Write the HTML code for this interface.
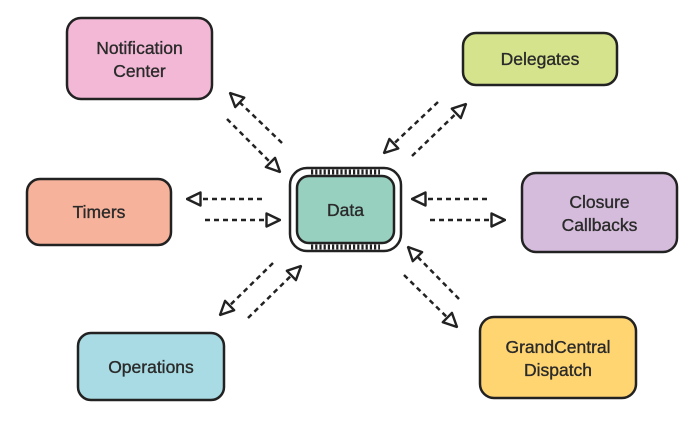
<!DOCTYPE html>
<html><head><style>
html,body{margin:0;padding:0;background:#fff;}
svg text{font-family:"Liberation Sans",sans-serif;font-size:17.5px;fill:#2a2a2a;text-anchor:middle;stroke:#2a2a2a;stroke-width:0.35;}
</style></head><body>
<svg width="700" height="426" viewBox="0 0 700 426" xmlns="http://www.w3.org/2000/svg">
<defs>
<marker id="a" viewBox="0 0 16 16" refX="15" refY="8" markerWidth="16" markerHeight="16" markerUnits="userSpaceOnUse" orient="auto">
<path d="M1.5,1.5 L15,8 L1.5,14.5 Z" fill="#fff" stroke="#222" stroke-width="2.4" stroke-linejoin="round"/>
</marker>
</defs>
<g stroke="#222" stroke-width="2.5">
<rect x="67" y="18" width="145" height="81" rx="14" fill="#f2b8d6"/>
<rect x="463" y="33" width="154" height="52" rx="13" fill="#d4e38c"/>
<rect x="27" y="179" width="144" height="66" rx="13" fill="#f7b29b"/>
<rect x="522" y="173" width="155" height="79" rx="14" fill="#d5bcdc"/>
<rect x="78" y="333" width="146" height="67" rx="13" fill="#a8dbe3"/>
<rect x="480" y="317" width="156" height="81" rx="14" fill="#ffd572"/>
<rect x="290" y="168" width="111" height="83" rx="17" fill="#fff"/>
<rect x="297" y="176" width="97" height="67" rx="12" fill="#98d0c0"/>
</g>
<line x1="311" y1="172" x2="380" y2="172" stroke="#222" stroke-width="5" stroke-dasharray="2.2 2"/>
<line x1="311" y1="247" x2="380" y2="247" stroke="#222" stroke-width="5" stroke-dasharray="2.2 2"/>
<text x="139.5" y="54">Notification</text><text x="139.5" y="77">Center</text>
<text x="540" y="65">Delegates</text>
<text x="99" y="218">Timers</text>
<text x="599.5" y="208">Closure</text><text x="599.5" y="231">Callbacks</text>
<text x="151" y="373">Operations</text>
<text x="558" y="353">GrandCentral</text><text x="558" y="376">Dispatch</text>
<text x="345.5" y="216">Data</text>
<g stroke="#222" stroke-width="2.5" stroke-dasharray="5 4" fill="none" marker-end="url(#a)">
<line x1="282" y1="143" x2="230" y2="93"/>
<line x1="227" y1="119" x2="280" y2="172"/>
<line x1="438" y1="102" x2="384" y2="153"/>
<line x1="412" y1="156" x2="466" y2="104"/>
<line x1="262" y1="199" x2="187" y2="199"/>
<line x1="205" y1="220" x2="280" y2="220"/>
<line x1="487" y1="199" x2="412" y2="199"/>
<line x1="430" y1="220" x2="505" y2="220"/>
<line x1="273" y1="263" x2="220" y2="315"/>
<line x1="248" y1="318" x2="301" y2="266"/>
<line x1="459" y1="299" x2="408" y2="247"/>
<line x1="404" y1="275" x2="457" y2="327"/>
</g>
</svg>
</body></html>
